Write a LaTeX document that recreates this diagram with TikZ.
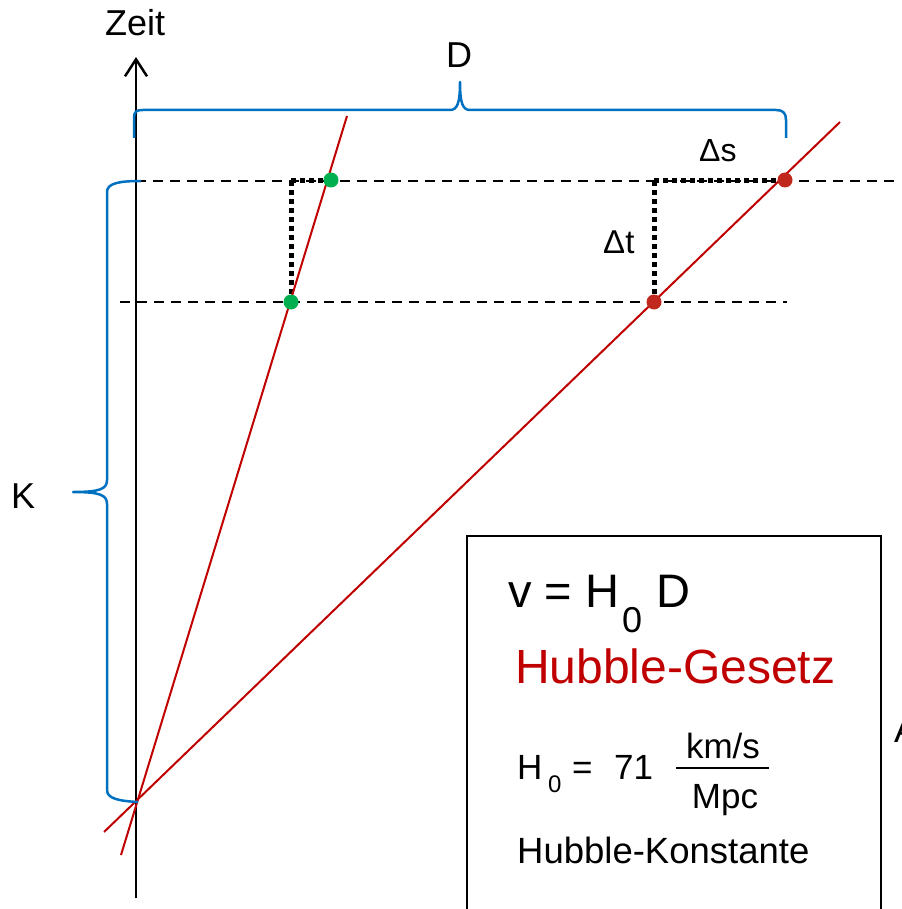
\documentclass[tikz,border=0pt]{standalone}
\usepackage{fontspec}
\setmainfont{Liberation Sans}
\usetikzlibrary{arrows.meta}
\definecolor{bracec}{HTML}{0070C0}
\definecolor{linered}{HTML}{C00000}
\definecolor{dotred}{HTML}{C0281E}
\definecolor{dotgreen}{HTML}{00B050}
\tikzset{
  axisline/.style={line width=2.5pt, black},
  redline/.style={line width=2pt, linered},
  dashline/.style={line width=2.2pt, black, dash pattern=on 10pt off 7pt},
  dotline/.style={line width=5pt, black, dash pattern=on 5pt off 4pt},
  bracel/.style={line width=2.5pt, bracec, line join=round},
  gdot/.style={circle, fill=dotgreen, inner sep=0pt, minimum size=15pt},
  rdot/.style={circle, fill=dotred, inner sep=0pt, minimum size=15pt},
  lbl/.style={inner sep=0pt, anchor=base west},
}
\newcommand{\fs}[1]{\fontsize{#1}{#1}\selectfont}
\begin{document}
\begin{tikzpicture}[x=1pt,y=-1pt]
\useasboundingbox (0,0) rectangle (901,909);
\clip (0,0) rectangle (901,909);
% coordinates
\coordinate (axbot) at (136,898);
\coordinate (axtop) at (136,57);
\coordinate (O) at (136,802);
\coordinate (r1a) at (121,855);
\coordinate (r1b) at (347,116);
\coordinate (r2a) at (104,832);
\coordinate (r2b) at (840,122);
\coordinate (d1a) at (136,181);
\coordinate (d1b) at (901,181);
\coordinate (d2a) at (120,302);
\coordinate (d2b) at (787,302);
% dashed lines
\draw[dashline] (d1a) -- (d1b);
\draw[dashline] (d2a) -- (d2b);
% dotted lines
\draw[dotline] (291,181) -- (291,302);
\draw[dotline] (291,181) -- (331,181);
\draw[dotline] (654,181) -- (654,302);
\draw[dotline] (654,181) -- (785,181);
% axis
\draw[axisline, -{Straight Barb[length=17pt,width=22pt,line width=2.5pt]}] (axbot) -- (axtop);
\node[lbl] (zeit) at (105,36) {\fs{36}Zeit};
% red lines
\draw[redline] (r1a) -- (r1b);
\draw[redline] (r2a) -- (r2b);
% dots
\node[gdot] (g1) at (291,302) {};
\node[gdot] (g2) at (331,180) {};
\node[rdot] (p1) at (654,302) {};
\node[rdot] (p2) at (785,180) {};
% D brace
\draw[bracel] (134,138) -- (134,118) .. controls (134,112) and (136,110) .. (143,110)
  -- (450,110) .. controls (457,110) and (460,104) .. (460,82)
  .. controls (460,104) and (463,110) .. (470,110)
  -- (776,110) .. controls (783,110) and (786,113) .. (786,120) -- (786,138);
\node[lbl] (D) at (446,68) {\fs{36}D};
% K brace
\draw[bracel] (141,181) .. controls (120,181) and (107,183) .. (107,192)
  -- (107,480) .. controls (107,489) and (100,492) .. (73,492)
  .. controls (100,492) and (107,495) .. (107,504)
  -- (107,790) .. controls (107,799) and (120,801) .. (138,802);
\node[lbl] (K) at (11,508) {\fs{36}K};
% Delta labels
\node[lbl] (ds) at (699,162) {\fs{32}Δs};
\node[lbl] (dt) at (603,253) {\fs{33}Δt};
% box
\draw[line width=2.5pt] (467,930) -- (467,536) -- (881,536) -- (881,930);
\node[lbl] (v) at (508,607) {\fs{47}v = H};
\node[lbl] (v0) at (622,632) {\fs{36}0};
\node[lbl] (vD) at (656,607) {\fs{47}D};
\node[lbl, text=linered] (hg) at (515,683) {\fs{48}Hubble-Gesetz};
\node[lbl] (h) at (517,779) {\fs{35}H};
\node[lbl] (h0) at (548,792) {\fs{24}0};
\node[lbl] (eq) at (572,779) {\fs{35}=};
\node[lbl] (n71) at (614,779) {\fs{35}71};
\coordinate (fl) at (676,768);
\coordinate (fr) at (769,768);
\draw[line width=2pt] (fl) -- (fr);
\node[inner sep=0pt, anchor=base] (kms) at (723,758) {\fs{35}km/s};
\node[inner sep=0pt, anchor=base] (mpc) at (725,808) {\fs{35}Mpc};
\node[lbl] (hk) at (517,863) {\fs{36.5}Hubble-Konstante};
% cut-off letter at right edge (as in the reference)
\node[lbl] (cut) at (894,742) {\fs{36}A};
\end{tikzpicture}
\end{document}
